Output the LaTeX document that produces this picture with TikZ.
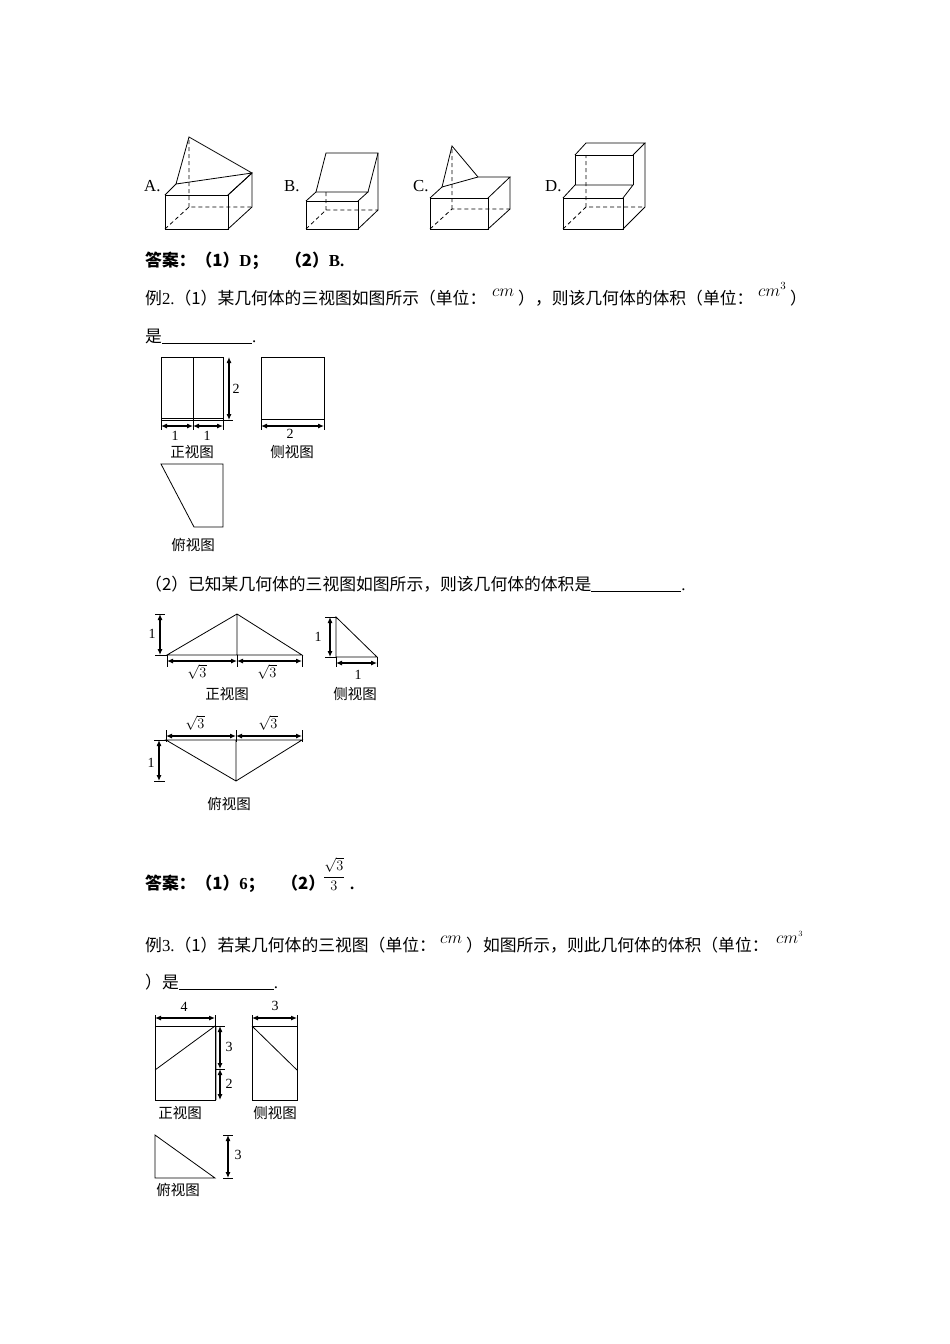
\documentclass[tikz,border=0pt]{standalone}
\usepackage{fontspec}
\usepackage{amsmath}
\setmainfont{Liberation Serif}
\newfontfamily\cjk{Noto Sans CJK SC}
\usetikzlibrary{arrows.meta}
\newcommand{\zh}[1]{{\cjk #1}}
\begin{document}
\begin{tikzpicture}[x=1pt,y=-1pt,
  ln/.style={line width=0.8pt},
  hd/.style={line width=0.8pt,dashed,dash pattern=on 4pt off 3pt},
  dim/.style={line width=1.1pt,{Latex[length=6pt,width=5pt]}-{Latex[length=6pt,width=5pt]}},
  tk/.style={line width=0.7pt},
  txt/.style={anchor=base west,inner sep=0pt,font=\fontsize{16.8}{19}\selectfont},
  lab/.style={inner sep=0pt,font=\fontsize{14}{16}\selectfont},
  capt/.style={inner sep=0pt,font=\cjk\fontsize{14.5}{16}\selectfont}]
\useasboundingbox (0,0) rectangle (950,1344);
\fill[white] (0,0) rectangle (950,1344);
% ---- top figures ----
\node[txt] at (144,191) {A.};
\node[txt] at (284,191) {B.};
\node[txt] at (413,191) {C.};
\node[txt] at (545,191) {D.};
% A
\draw[ln] (165,195) rectangle (228,229);
\draw[ln] (228,195)--(252,173)--(252,207)--(228,229);
\draw[ln] (165,195)--(176,184)--(189,137)--(252,173)--(228,195) (176,184)--(252,173);
\draw[hd] (165,229)--(189,207)--(252,207) (189,207)--(189,137);
% B
\draw[ln] (306,201) rectangle (358,229);
\draw[ln] (306,201)--(316,192)--(368,192)--(358,201);
\draw[ln] (316,192)--(326,153)--(378,153)--(368,192);
\draw[ln] (378,153)--(378,210)--(358,229);
\draw[hd] (306,229)--(326,210)--(378,210) (326,210)--(326,192);
% C
\draw[ln] (430,198) rectangle (488,229);
\draw[ln] (430,198)--(442,187)--(452,146)--(478,177)--(510,177)--(488,198);
\draw[ln] (442,187)--(478,177);
\draw[ln] (510,177)--(510,209)--(488,229);
\draw[hd] (430,229)--(452,209)--(510,209) (452,209)--(452,146);
% D
\draw[ln] (563,198) rectangle (623,229);
\draw[ln] (563,198)--(575,185)--(633,185)--(623,198);
\draw[ln] (575,185)--(575,155)--(633,155)--(633,185);
\draw[ln] (575,155)--(586,143)--(645,143)--(633,155);
\draw[ln] (645,143)--(645,207)--(623,229);
\draw[hd] (563,229)--(586,207)--(645,207) (586,207)--(586,155);
% ---- text ----
\node[txt] at (145,266) {\bfseries\zh{\bfseries 答案：（1）}D\zh{\bfseries ；\quad（2）}B.};
\node[txt] at (145,304) {\zh{例}2.\zh{（1）某几何体的三视图如图所示（单位：}};
\node[txt] at (492,296) {\fontsize{16}{18}\selectfont$cm$};
\node[txt] at (518,304) {\zh{），则该几何体的体积（单位：}};
\node[txt] at (758,296) {\fontsize{16}{18}\selectfont$cm^3$};
\node[txt] at (790,304) {\zh{）}};
\node[txt] at (145,342) {\zh{是}\rule[-2pt]{90pt}{0.6pt}.};
% ex2 (1) front
\draw[ln] (161,357) rectangle (223,420);
\draw[ln] (193,357)--(193,420) (223,420)--(233,420);
\draw[tk] (161,418.5)--(223,418.5);
\draw[dim] (229,357)--(229,420);
\node[lab] at (236,389) {2};
\draw[tk] (161,420)--(161,430) (193,420)--(193,430) (223,420)--(223,430);
\draw[dim] (161,426)--(193,426);
\draw[dim] (193,426)--(223,426);
\node[lab] at (175,436) {1};
\node[lab] at (207,436) {1};
\node[capt] at (192,452) {正视图};
% side
\draw[ln] (261,357) rectangle (324,419);
\draw[tk] (261,419)--(261,430) (324,419)--(324,430);
\draw[dim] (261,426)--(324,426);
\node[lab] at (290,434) {2};
\node[capt] at (292,452) {侧视图};
% top
\draw[ln] (161,464)--(223,464)--(223,527)--(194,527)--cycle;
\node[capt] at (193,545) {俯视图};
\node[txt] at (145,590) {\zh{（2）已知某几何体的三视图如图所示，则该几何体的体积是}\rule[-2pt]{90pt}{0.6pt}.};
% ex2 (2) front
\draw[ln] (167,655)--(302,655)--(237,614)--cycle (237,614)--(237,655);
\draw[tk] (155,614)--(165,614) (155,655)--(167,655);
\draw[dim] (160,614)--(160,655);
\node[lab] at (152,634) {1};
\draw[tk] (167,655)--(167,667) (237,655)--(237,667) (302,655)--(302,667);
\draw[dim] (167,661)--(237,661);
\draw[dim] (237,661)--(302,661);
\node[lab] at (197,672) {$\sqrt{3}$};
\node[lab] at (267,672) {$\sqrt{3}$};
\node[capt] at (227,694) {正视图};
% side
\draw[ln] (336,617)--(336,657)--(377,657)--cycle;
\draw[tk] (325,617)--(336,617) (325,657)--(336,657) (336,657)--(336,667) (377,657)--(377,667);
\draw[dim] (330,617)--(330,657);
\node[lab] at (318,637) {1};
\draw[dim] (336,663)--(377,663);
\node[lab] at (358,675) {1};
\node[capt] at (355,694) {侧视图};
% top
\draw[ln] (166,740)--(302,740)--(236,781)--cycle (236,740)--(236,781);
\draw[tk] (166,730)--(166,742) (236,730)--(236,742) (302,730)--(302,742);
\draw[dim] (166,736)--(236,736);
\draw[dim] (236,736)--(302,736);
\node[lab] at (195,723) {$\sqrt{3}$};
\node[lab] at (268,723) {$\sqrt{3}$};
\draw[tk] (154,740)--(166,740) (154,781)--(165,781);
\draw[dim] (159,740)--(159,781);
\node[lab] at (151,763) {1};
\node[capt] at (229,804) {俯视图};
% answer 2
\node[txt] at (145,889) {\bfseries\zh{\bfseries 答案：（1）}6\zh{\bfseries ；\quad（2）}};
\node[inner sep=0pt] at (334,874) {\fontsize{15}{18}\selectfont$\dfrac{\sqrt{3}}{3}$};
\node[txt] at (350,889) {\bfseries .};
% ex3 text
\node[txt] at (145,951) {\zh{例}3.\zh{（1）若某几何体的三视图（单位：}};
\node[txt] at (440,943) {\fontsize{16}{18}\selectfont$cm$};
\node[txt] at (466,951) {\zh{）如图所示，则此几何体的体积（单位：}};
\node[txt] at (776,943) {\fontsize{16}{18}\selectfont$cm^{\scriptscriptstyle 3}$};
\node[txt] at (145,988) {\zh{）是}\rule[-2pt]{95pt}{0.6pt}.};
% ex3 front
\draw[ln] (155,1026) rectangle (215,1100);
\draw[ln] (155,1070)--(215,1026) (216,1026)--(216,1100);
\draw[tk] (155,1015)--(155,1026) (215,1015)--(215,1026);
\draw[dim] (155,1018)--(215,1018);
\node[lab] at (184,1007) {4};
\draw[tk] (216,1026)--(225,1026) (216,1069)--(225,1069);
\draw[dim] (220,1026)--(220,1069);
\draw[dim] (220,1069)--(220,1100);
\node[lab] at (229,1047) {3};
\node[lab] at (229,1084) {2};
\node[capt] at (180,1113) {正视图};
% side
\draw[ln] (252,1026) rectangle (297,1100);
\draw[ln] (252,1026)--(297,1070);
\draw[tk] (252,1015)--(252,1026) (297,1015)--(297,1026);
\draw[dim] (252,1018)--(297,1018);
\node[lab] at (275,1006) {3};
\node[capt] at (275,1113) {侧视图};
% top
\draw[ln] (155,1135)--(155,1178)--(215,1178)--cycle;
\draw[tk] (223,1135)--(233,1135) (223,1178)--(233,1178);
\draw[dim] (228,1135)--(228,1178);
\node[lab] at (238,1155) {3};
\node[capt] at (178,1190) {俯视图};
\end{tikzpicture}
\end{document}
